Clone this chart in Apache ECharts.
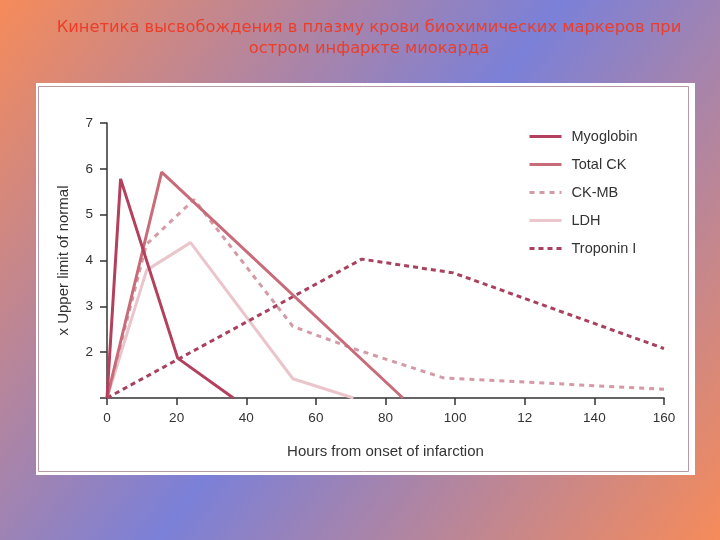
<!DOCTYPE html>
<html><head><meta charset="utf-8">
<script src="https://cdn.jsdelivr.net/npm/echarts@6/dist/echarts.min.js"></script>
<style>html,body{margin:0;padding:0;}#c{width:720px;height:540px;}</style>
</head><body><div id="c"></div>
<script>
const titleLines = ['Кинетика высвобождения в плазму крови биохимических маркеров при','остром инфаркте миокарда'];
const xTickLabels = {0:'0',20:'20',40:'40',60:'60',80:'80',100:'100',120:'12',140:'140',160:'160'};
const seriesNames = ['Myoglobin','Total CK','CK-MB','LDH','Troponin I'];
const myoglobin = [[0,1],[3.9,5.78],[20.3,1.87],[36.3,1]];
const totalCK = [[0,1],[15.7,5.93],[85,1]];
const ckMB = [[0,1],[11.3,4.35],[25,5.33],[53.4,2.56],[70.7,2.08],[96.6,1.44],[160,1.19]];
const ldh = [[0,1],[11.4,3.79],[24,4.39],[53.4,1.42],[70.8,1]];
const troponinI = [[0,1],[73.2,4.03],[99.5,3.73],[160,2.08]];

const chart = echarts.init(document.getElementById('c'));
const font = '"Liberation Sans", Arial, sans-serif';
const titleStyle = {fill:'#ec3d29',font:'16.3px "DejaVu Sans", sans-serif',textAlign:'center',textVerticalAlign:'middle'};
chart.setOption({
  backgroundColor: new echarts.graphic.LinearGradient(0,0,1,1,[
    {offset:0,color:'#f68b5a'},{offset:0.5,color:'#7b80d8'},{offset:1,color:'#f68b5a'}]),
  animation:false,
  graphic:[
    {type:'text',z:10,x:369,y:28,style:Object.assign({text:titleLines[0]},titleStyle)},
    {type:'text',z:10,x:369,y:49,style:Object.assign({text:titleLines[1]},titleStyle)},
    {type:'rect',z:-10,shape:{x:36,y:83,width:659,height:392},style:{fill:'#ffffff'}},
    {type:'rect',z:-9,shape:{x:38.5,y:86.5,width:650,height:385},style:{fill:'none',stroke:'#b89aa6',lineWidth:1}}
  ],
  grid:{left:107,right:56,top:123,bottom:142},
  legend:{orient:'vertical',left:528,top:129,padding:0,itemWidth:32,itemHeight:14,itemGap:13,
    itemStyle:{color:'rgba(0,0,0,0)',borderWidth:0},lineStyle:{width:3},
    textStyle:{color:'#333',fontFamily:font,fontSize:14.5,padding:[0,0,0,5]},data:seriesNames},
  xAxis:{type:'value',min:0,max:160,interval:20,
    name:'Hours from onset of infarction',nameLocation:'middle',nameGap:46,
    nameTextStyle:{color:'#333',fontFamily:font,fontSize:15},
    axisLine:{lineStyle:{color:'#333',width:1.5}},
    axisTick:{length:7,lineStyle:{color:'#333',width:1.5}},
    axisLabel:{color:'#333',fontFamily:font,fontSize:13.5,margin:13,formatter:v=>xTickLabels[v]??String(v)},
    splitLine:{show:false}},
  yAxis:{type:'value',min:1,max:7,interval:1,
    name:'x Upper limit of normal',nameLocation:'middle',nameGap:36,
    nameTextStyle:{color:'#333',fontFamily:font,fontSize:15},
    axisLine:{show:true,lineStyle:{color:'#333',width:1.5}},
    axisTick:{show:true,length:7,lineStyle:{color:'#333',width:1.5}},
    axisLabel:{color:'#333',fontFamily:font,fontSize:13.5,margin:14,formatter:v=>v===1?'':String(v)},
    splitLine:{show:false}},
  series:[
    {name:'Myoglobin',type:'line',data:myoglobin,symbol:'none',lineStyle:{color:'#b3405c',width:3},itemStyle:{color:'#b3405c'},z:5},
    {name:'Total CK',type:'line',data:totalCK,symbol:'none',lineStyle:{color:'#c96c7a',width:3},itemStyle:{color:'#c96c7a'},z:4},
    {name:'CK-MB',type:'line',data:ckMB,symbol:'none',lineStyle:{color:'#d49aa5',width:3,type:[5,5]},itemStyle:{color:'#d49aa5'},z:3},
    {name:'LDH',type:'line',data:ldh,symbol:'none',lineStyle:{color:'#ebc5cc',width:3},itemStyle:{color:'#ebc5cc'},z:2},
    {name:'Troponin I',type:'line',data:troponinI,symbol:'none',lineStyle:{color:'#a8405e',width:3,type:[5,4]},itemStyle:{color:'#a8405e'},z:3}
  ]
});
</script></body></html>
